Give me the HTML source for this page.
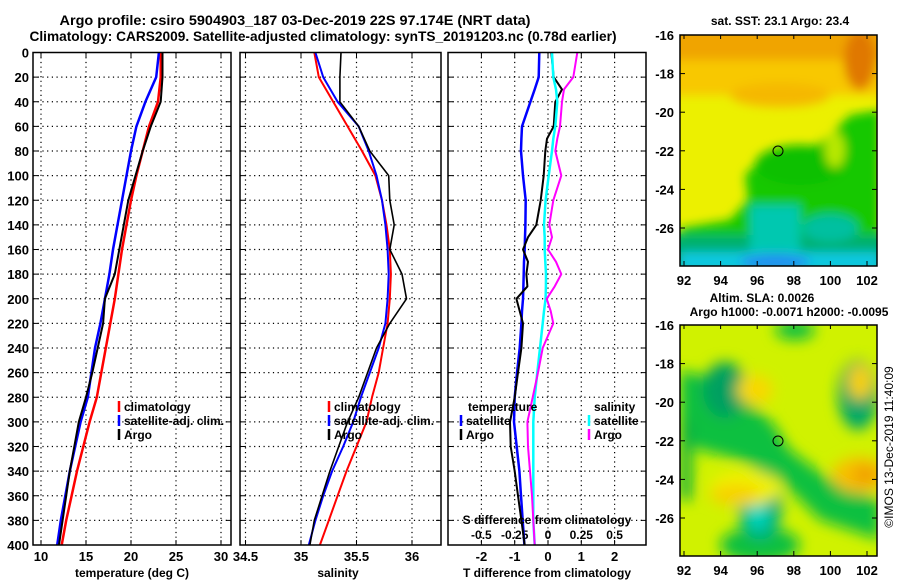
<!DOCTYPE html>
<html><head><meta charset="utf-8"><style>
html,body{margin:0;padding:0;background:#fff;}
svg{display:block;font-family:"Liberation Sans",Arial,sans-serif;font-weight:bold;}
</style></head><body>
<svg id="fig" width="900" height="580" viewBox="0 0 900 580" xmlns="http://www.w3.org/2000/svg">
<defs>
<filter id="bl" x="-20%" y="-20%" width="140%" height="140%"><feGaussianBlur stdDeviation="5"/></filter>
<filter id="bl2" x="-20%" y="-20%" width="140%" height="140%"><feGaussianBlur stdDeviation="7"/></filter>
<clipPath id="c1"><rect x="680" y="35" width="197" height="231"/></clipPath>
<clipPath id="c2"><rect x="680" y="325" width="197" height="231"/></clipPath>
</defs>
<text x="295" y="25" font-size="14" text-anchor="middle" textLength="471" lengthAdjust="spacingAndGlyphs">Argo profile: csiro 5904903_187 03-Dec-2019 22S 97.174E (NRT data)</text>
<text x="323" y="41" font-size="14" text-anchor="middle" textLength="587" lengthAdjust="spacingAndGlyphs">Climatology: CARS2009. Satellite-adjusted climatology: synTS_20191203.nc (0.78d earlier)</text>

<g>
<g clip-path="url(#c1)">
<rect x="680" y="35" width="197" height="231" fill="#ecf000"/>
<g filter="url(#bl)">
<rect x="670" y="25" width="220" height="45" fill="#f0a400"/>
<rect x="670" y="60" width="220" height="35" fill="#f8c800"/>
<ellipse cx="860" cy="60" rx="16" ry="30" fill="#e07800"/>
<ellipse cx="780" cy="95" rx="50" ry="12" fill="#f5b800"/>
<polygon points="745,175 752,168 790,150 810,150 830,135 850,115 880,110 880,270 680,270 680,228 730,220 748,200" fill="#18c800"/>
<ellipse cx="800" cy="165" rx="45" ry="20" fill="#10c000"/>
<ellipse cx="835" cy="150" rx="10" ry="18" fill="#b8e800"/>
<rect x="670" y="235" width="220" height="40" fill="#00b070"/>
<rect x="750" y="205" width="50" height="50" fill="#00c8b0"/>
<ellipse cx="830" cy="228" rx="28" ry="14" fill="#00c0a0"/>
<rect x="680" y="252" width="200" height="20" fill="#10c8e0"/>
<ellipse cx="775" cy="262" rx="35" ry="8" fill="#2090f0"/>
</g></g>
<rect x="680" y="35" width="197" height="231" fill="none" stroke="#000" stroke-width="1.5"/>
<circle cx="778" cy="151" r="5" fill="none" stroke="#000"/>
<text x="780" y="25" font-size="12" text-anchor="middle">sat. SST: 23.1 Argo: 23.4</text>
</g>

<g>
<g clip-path="url(#c2)">
<rect x="680" y="325" width="197" height="231" fill="#d0f200"/>
<g filter="url(#bl2)">
<polygon points="680,370 720,380 770,420 790,450 830,480 880,500 880,540 820,520 780,480 740,460 700,450 680,440" fill="#10c040"/>
<ellipse cx="760" cy="435" rx="20" ry="12" fill="#10c040"/>
<ellipse cx="725" cy="390" rx="22" ry="28" fill="#00a060"/>
<ellipse cx="858" cy="395" rx="20" ry="35" fill="#00a868"/>
<ellipse cx="760" cy="545" rx="40" ry="18" fill="#10c040"/>
<ellipse cx="760" cy="505" rx="22" ry="35" fill="#00b080"/>
<ellipse cx="758" cy="515" rx="10" ry="15" fill="#00d8c0"/>
<rect x="680" y="420" width="12" height="80" fill="#10b040"/>
<ellipse cx="795" cy="330" rx="20" ry="10" fill="#10c040"/>
<ellipse cx="745" cy="488" rx="35" ry="18" fill="#f0f000"/>
<ellipse cx="735" cy="495" rx="25" ry="10" fill="#f8d000"/>
<ellipse cx="755" cy="390" rx="18" ry="15" fill="#f8d800"/>
<ellipse cx="860" cy="382" rx="12" ry="18" fill="#f8d000"/>
<ellipse cx="860" cy="475" rx="28" ry="18" fill="#f8c000"/>
<ellipse cx="865" cy="475" rx="12" ry="10" fill="#f0a000"/>
</g></g>
<rect x="680" y="325" width="197" height="231" fill="none" stroke="#000" stroke-width="1.5"/>
<circle cx="778" cy="441" r="5" fill="none" stroke="#000"/>
<text x="762" y="302" font-size="12" text-anchor="middle">Altim. SLA: 0.0026</text>
<text x="789" y="316" font-size="12" text-anchor="middle">Argo h1000: -0.0071 h2000: -0.0095</text>
</g>
<text x="0" y="0" font-size="12" font-weight="normal" text-anchor="middle" transform="translate(893,447) rotate(-90)">©IMOS 13-Dec-2019 11:40:09</text>
<g id="dyn"></g>
</svg>
<script>
// ---- data ----
const depthTicks=[0,20,40,60,80,100,120,140,160,180,200,220,240,260,280,300,320,340,360,380,400];
const depths=[0,20,40,60,80,100,120,140,160,180,200,220,240,260,280,300,320,340,360,380,400];
const tempClim=[23.3,23.3,23.0,22.0,21.3,20.6,20.0,19.5,19.0,18.6,18.2,17.7,17.2,16.7,16.2,15.4,14.7,14.0,13.4,12.8,12.3];
const tempSat=[23.1,22.8,21.6,20.6,20.0,19.5,19.0,18.5,18.0,17.6,17.1,16.6,16.0,15.6,15.2,14.4,13.8,13.2,12.7,12.2,11.8];
const tempArgo=[23.5,23.5,23.3,22.2,21.3,20.5,19.7,19.2,18.7,18.2,17.1,16.9,16.3,15.7,15.0,14.2,13.7,13.2,12.8,12.4,12.0];
const salClim=[35.12,35.16,35.29,35.42,35.55,35.67,35.73,35.77,35.80,35.81,35.80,35.78,35.74,35.70,35.64,35.59,35.50,35.41,35.33,35.25,35.17];
const salSat=[35.13,35.20,35.33,35.52,35.61,35.68,35.73,35.76,35.78,35.79,35.78,35.76,35.70,35.62,35.54,35.47,35.38,35.28,35.20,35.13,35.07];
const salArgo=[35.36,35.35,35.35,35.52,35.62,35.79,35.80,35.84,35.80,35.91,35.95,35.80,35.68,35.60,35.52,35.42,35.34,35.26,35.19,35.12,35.08];
const diffDepths=[0,20,30,40,60,70,80,100,120,140,150,160,170,180,190,200,210,220,240,260,280,300,320,340,360,380,400];
const tDiffSat=[-0.26,-0.28,-0.40,-0.53,-0.78,-0.80,-0.81,-0.75,-0.67,-0.68,-0.69,-0.70,-0.72,-0.73,-0.74,-0.75,-0.78,-0.80,-0.85,-0.93,-1.0,-1.02,-0.94,-0.86,-0.81,-0.76,-0.71];
const tDiffArgo=[0.10,0.17,0.42,0.22,0.17,-0.03,-0.08,-0.13,-0.22,-0.35,-0.6,-0.75,-0.6,-0.65,-0.62,-0.95,-0.85,-0.75,-0.8,-0.9,-1.0,-1.14,-1.12,-1.0,-0.9,-0.8,-0.7];
const sDiffSat=[0.03,0.04,0.06,0.07,0.055,0.04,0.03,0.005,-0.018,-0.03,-0.025,-0.025,-0.02,-0.015,-0.016,-0.018,-0.03,-0.04,-0.06,-0.08,-0.10,-0.11,-0.11,-0.11,-0.11,-0.11,-0.10];
const sDiffArgo=[0.22,0.19,0.12,0.105,0.09,0.07,0.055,0.1,0.04,0.01,0.03,0.0,0.06,0.1,0.05,-0.01,0.02,0.04,-0.04,-0.075,-0.115,-0.155,-0.15,-0.135,-0.12,-0.11,-0.10];
const tTicks=[10,15,20,25,30];
const sTicks=[34.5,35,35.5,36];
const tdTicks=[-2,-1,0,1,2];
const sdTicks=[-0.5,-0.25,0,0.25,0.5];
const sdTickLabels=["-0.5","-0.25","0","0.25","0.5"];
const latTicks=[-16,-18,-20,-22,-24,-26];
const lonTicks=[92,94,96,98,100,102];

const NS='http://www.w3.org/2000/svg';
const g=document.getElementById('dyn');
function el(t,a,p){const e=document.createElementNS(NS,t);for(const k in a)e.setAttribute(k,a[k]);(p||g).appendChild(e);return e;}
const yTop=52.5,yBot=545;
const yD=d=>yTop+(d/400)*(yBot-yTop);
const xT=t=>41+(t-10)*9.0;
const xS=s=>301+(s-35)*111;
const xTD=t=>548+t*33.3;
const xSD=s=>548+s*133.2;
const panels=[{x0:33,x1:231,n:'temperature'},{x0:240,x1:441,n:'salinity'},{x0:448,x1:646,n:'difference'}];

panels.forEach((p,i)=>{
  const grp=el('g',{});
  
  
  depthTicks.forEach(d=>{
    if(d>0&&d<400){const l=el('line',{x1:p.x0,x2:p.x1,y1:yD(d),y2:yD(d),stroke:'#000','stroke-dasharray':'1.2,3.5','stroke-width':1.2},grp);
    }
    el('line',{x1:p.x0,x2:p.x0+5,y1:yD(d),y2:yD(d),stroke:'#000'},grp);
    el('line',{x1:p.x1,x2:p.x1-5,y1:yD(d),y2:yD(d),stroke:'#000'},grp);
  });
  p.grp=grp;
});
depthTicks.forEach(d=>{const t=el('text',{x:29,y:yD(d)+5,'font-size':13,'text-anchor':'end'});t.textContent=d;
});

function vgrid(p,vals,fx,labels,ly){
  vals.forEach((v,k)=>{const x=fx(v);
    if(x>p.x0+2&&x<p.x1-2){const l=el('line',{x1:x,x2:x,y1:yTop,y2:yBot,stroke:'#000','stroke-dasharray':'1.2,3.5','stroke-width':1.2},p.grp);
    }
    el('line',{x1:x,x2:x,y1:yBot,y2:yBot-5,stroke:'#000'},p.grp);
    el('line',{x1:x,x2:x,y1:yTop,y2:yTop+5,stroke:'#000'},p.grp);
    if(labels){const t=el('text',{x:x,y:ly,'font-size':13,'text-anchor':'middle'});t.textContent=labels[k];
    }
  });
}
vgrid(panels[0],tTicks,xT,tTicks,561);
vgrid(panels[1],sTicks,xS,sTicks,561);
vgrid(panels[2],tdTicks,xTD,tdTicks,561);
sdTicks.forEach((v,k)=>{const t=el('text',{x:xSD(v),y:539,'font-size':12,'text-anchor':'middle'});t.textContent=sdTickLabels[k];
});

function line(xs,ds,fx,col,w,name){
  const pts=xs.map((v,k)=>fx(v).toFixed(1)+','+yD(ds[k]).toFixed(1)).join(' ');
  const e=el('polyline',{points:pts,fill:'none',stroke:col,'stroke-width':w,'stroke-linejoin':'round'});
  
  
}
line(tempClim,depths,xT,'#f00',2.5,'temp-climatology-line');
line(tempSat,depths,xT,'#00f',2.5,'temp-satellite-line');
line(tempArgo,depths,xT,'#000',2,'temp-argo-line');
line(salClim,depths,xS,'#f00',2,'sal-climatology-line');
line(salSat,depths,xS,'#00f',2,'sal-satellite-line');
line(salArgo,depths,xS,'#000',1.6,'sal-argo-line');
line(tDiffSat,diffDepths,xTD,'#00f',2.5,'tdiff-satellite-line');
line(tDiffArgo,diffDepths,xTD,'#000',2,'tdiff-argo-line');
line(sDiffSat,diffDepths,xSD,'#0ff',2.5,'sdiff-satellite-line');
line(sDiffArgo,diffDepths,xSD,'#f0f',2,'sdiff-argo-line');

panels.forEach(p=>{const r=el('rect',{x:p.x0,y:yTop,width:p.x1-p.x0,height:yBot-yTop,fill:'none',stroke:'#000','stroke-width':1.5});
});

function txt(x,y,s,fs,name,anchor){const t=el('text',{x:x,y:y,'font-size':fs,'text-anchor':anchor||'start'});t.textContent=s;
return t;}
txt(132,577,'temperature (deg C)',12,'x-axis-title-temperature','middle');
txt(338,577,'salinity',12,'x-axis-title-salinity','middle');
txt(547,577,'T difference from climatology',12,'x-axis-title-tdiff','middle');
txt(547,524,'S difference from climatology',12,'s-diff-axis-title','middle');

function leg(x,y,col,label){
  const gg=el('g',{});
  
  
  el('line',{x1:x,x2:x,y1:y-10,y2:y+1,stroke:col,'stroke-width':2.5},gg);
  const t=el('text',{x:x+5,y:y,'font-size':12},gg);t.textContent=label;
}
leg(119,411,'#f00','climatology');leg(119,425,'#00f','satellite-adj. clim.');leg(119,439,'#000','Argo');
leg(329,411,'#f00','climatology');leg(329,425,'#00f','satellite-adj. clim.');leg(329,439,'#000','Argo');
txt(468,411,'temperature',12,'legend-heading-temperature');
leg(461,425,'#00f','satellite');leg(461,439,'#000','Argo');
txt(594,411,'salinity',12,'legend-heading-salinity');
leg(589,425,'#0ff','satellite');leg(589,439,'#f0f','Argo');

const mx=lon=>684+(lon-92)*18.3;
[[35,'sst'],[325,'sla']].forEach(([top,n])=>{
  const my=lat=>top+(-16-lat)*19.3;
  latTicks.forEach(l=>{const y=my(l);el('line',{x1:680,x2:685,y1:y,y2:y,stroke:'#000'});el('line',{x1:877,x2:872,y1:y,y2:y,stroke:'#000'});
    txt(674,y+5,String(l),13,n+'-lat-tick-label','end');});
  lonTicks.forEach(l=>{const x=mx(l);el('line',{x1:x,x2:x,y1:top,y2:top+4,stroke:'#000'});el('line',{x1:x,x2:x,y1:top+231,y2:top+226,stroke:'#000'});
    txt(x,top+250,String(l),13,n+'-lon-tick-label','middle');});
});
</script>
</body></html>
